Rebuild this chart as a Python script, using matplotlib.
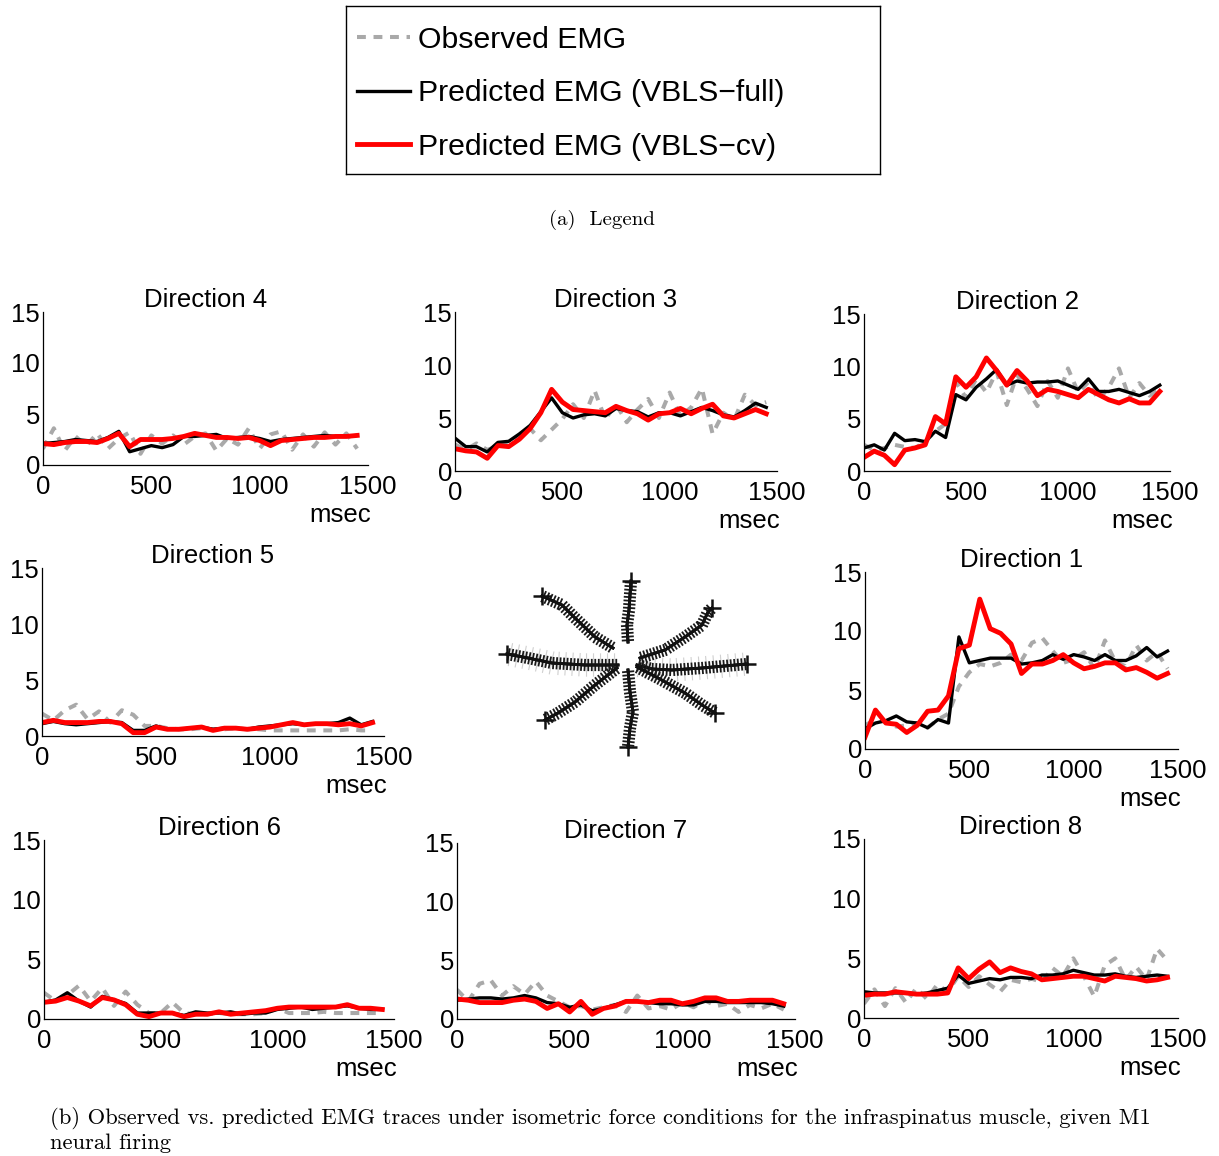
import matplotlib
matplotlib.use("Agg")
import matplotlib.pyplot as plt
import matplotlib.patheffects as pe
import numpy as np

W, H = 1219, 1156
plt.rcParams['font.family'] = ['Liberation Sans', 'DejaVu Sans']

# time base of the EMG traces (msec)
t_ms = np.arange(0, 1451, 50)

# observed EMG, VBLS-full prediction, VBLS-cv prediction for each reach direction
obs_d1 = [2.0, 2.5, 2.3, 1.9, 2.0, 2.2, 1.8, 2.5, 3.0, 5.3, 6.5, 7.2, 7.0, 7.3, 8.0,
          7.5, 9.0, 9.4, 8.3, 7.3, 7.6, 8.2, 6.8, 9.2, 7.4, 7.0, 8.8, 7.5, 8.2, 6.8]
full_d1 = [1.7, 2.2, 2.4, 2.8, 2.3, 2.2, 1.8, 2.5, 2.2, 9.5, 7.3, 7.5, 7.7, 7.7, 7.7,
           7.2, 7.3, 7.5, 8.0, 7.6, 8.0, 7.8, 7.5, 8.0, 7.5, 7.5, 7.9, 8.6, 7.8, 8.3]
cv_d1 = [1.0, 3.3, 2.2, 2.1, 1.4, 2.0, 3.2, 3.3, 4.5, 8.5, 8.8, 12.7, 10.2, 9.8, 8.9,
         6.4, 7.2, 7.2, 7.5, 8.0, 7.3, 6.8, 7.0, 7.3, 7.3, 6.7, 6.9, 6.5, 6.0, 6.4]

obs_d2 = [2.5, 2.0, 2.2, 2.5, 2.3, 2.2, 2.8, 3.8, 4.5, 8.5, 7.0, 8.8, 7.5, 9.5, 6.3,
          9.2, 7.8, 6.2, 8.6, 7.0, 9.8, 7.5, 8.5, 6.8, 8.0, 9.8, 7.0, 8.4, 7.2, 7.8]
full_d2 = [2.2, 2.5, 2.0, 3.6, 2.9, 3.0, 2.8, 3.8, 3.2, 7.3, 6.8, 8.0, 8.8, 9.7, 8.2,
           8.6, 8.4, 8.5, 8.5, 8.6, 8.2, 7.8, 8.8, 7.6, 7.6, 7.8, 7.5, 7.2, 7.6, 8.2]
cv_d2 = [1.3, 1.9, 1.5, 0.6, 2.0, 2.2, 2.5, 5.2, 4.5, 9.0, 8.0, 9.0, 10.8, 9.6, 8.2,
         9.6, 8.6, 7.2, 7.8, 7.6, 7.3, 7.0, 7.8, 7.3, 6.8, 6.5, 6.9, 6.5, 6.5, 7.6]

obs_d3 = [2.5, 2.0, 2.6, 2.0, 2.3, 2.7, 3.3, 4.0, 2.9, 3.9, 4.9, 6.3, 5.0, 7.6, 4.9,
          6.3, 4.6, 5.8, 6.8, 5.0, 7.4, 5.2, 6.0, 7.8, 3.5, 5.5, 4.8, 7.2, 6.2, 6.5]
full_d3 = [3.1, 2.3, 2.3, 1.8, 2.7, 2.8, 3.5, 4.3, 5.6, 6.9, 5.5, 5.0, 5.3, 5.4, 5.2,
           5.9, 5.7, 5.6, 5.1, 5.5, 5.5, 5.2, 5.6, 6.0, 5.7, 5.3, 5.1, 5.7, 6.4, 6.0]
cv_d3 = [2.1, 1.9, 1.8, 1.2, 2.4, 2.3, 3.0, 4.0, 5.5, 7.7, 6.5, 5.8, 5.7, 5.6, 5.5,
         6.1, 5.7, 5.4, 4.8, 5.4, 5.5, 5.9, 5.4, 5.9, 6.3, 5.2, 5.0, 5.4, 5.8, 5.4]

obs_d4 = [1.6, 3.6, 1.4, 2.8, 1.9, 3.1, 1.6, 2.6, 3.2, 1.1, 2.9, 2.1, 2.9, 2.0, 2.8,
          3.1, 1.4, 2.6, 2.0, 3.6, 1.6, 3.0, 3.3, 1.5, 3.0, 1.8, 3.2, 2.0, 3.1, 1.6]
full_d4 = [2.1, 2.2, 2.3, 2.5, 2.4, 2.3, 2.7, 3.3, 1.3, 1.6, 1.9, 1.7, 2.0, 2.8, 2.8,
           2.9, 3.0, 2.6, 2.7, 2.8, 2.6, 2.3, 2.5, 2.6, 2.7, 2.8, 2.9, 2.8, 2.8, 2.9]
cv_d4 = [2.1, 2.0, 2.2, 2.3, 2.3, 2.2, 2.6, 3.1, 1.8, 2.5, 2.5, 2.5, 2.6, 2.8, 3.1,
         2.9, 2.7, 2.7, 2.6, 2.7, 2.4, 1.9, 2.4, 2.5, 2.6, 2.7, 2.7, 2.8, 2.8, 2.9]

obs_d5 = [2.0, 1.4, 2.3, 2.8, 1.5, 2.2, 1.2, 2.3, 1.9, 0.9, 0.9, 0.7, 0.6, 0.6, 0.7,
          0.6, 0.6, 0.7, 0.6, 0.6, 0.5, 0.5, 0.5, 0.5, 0.5, 0.5, 0.5, 0.6, 0.5, 0.5]
full_d5 = [1.1, 1.3, 1.1, 1.0, 1.1, 1.2, 1.3, 1.2, 0.5, 0.5, 0.9, 0.6, 0.6, 0.7, 0.8,
           0.6, 0.7, 0.7, 0.6, 0.8, 0.9, 1.0, 1.1, 1.0, 1.1, 1.1, 1.2, 1.6, 1.0, 1.3]
cv_d5 = [1.2, 1.4, 1.2, 1.2, 1.2, 1.3, 1.3, 1.1, 0.3, 0.3, 0.8, 0.6, 0.6, 0.7, 0.8,
         0.5, 0.7, 0.7, 0.6, 0.7, 0.8, 1.0, 1.2, 1.0, 1.1, 1.1, 1.0, 1.1, 0.9, 1.2]

obs_d6 = [2.2, 1.5, 2.0, 2.8, 1.5, 2.6, 1.1, 2.3, 1.2, 0.5, 0.5, 1.4, 0.5, 0.4, 0.4,
          0.5, 0.4, 0.4, 0.4, 0.5, 0.9, 0.5, 0.5, 0.5, 0.6, 0.5, 0.5, 0.5, 0.5, 0.5]
full_d6 = [1.4, 1.6, 2.2, 1.5, 1.0, 1.9, 1.6, 1.3, 0.5, 0.5, 0.5, 0.5, 0.3, 0.6, 0.5,
           0.5, 0.6, 0.4, 0.5, 0.5, 0.8, 0.9, 1.0, 0.8, 0.9, 1.0, 1.1, 0.9, 0.8, 0.8]
cv_d6 = [1.4, 1.5, 1.8, 1.5, 1.1, 1.8, 1.6, 1.2, 0.4, 0.2, 0.5, 0.5, 0.2, 0.4, 0.4,
         0.6, 0.4, 0.5, 0.6, 0.7, 0.9, 1.0, 1.0, 1.0, 1.0, 1.0, 1.2, 0.9, 0.9, 0.8]

obs_d7 = [2.5, 1.5, 3.0, 3.3, 2.0, 2.8, 2.1, 3.2, 2.0, 1.5, 1.0, 1.1, 0.8, 1.0, 1.2,
          0.6, 2.0, 0.9, 1.1, 0.8, 1.4, 1.0, 1.6, 1.1, 1.3, 0.6, 1.2, 0.9, 1.3, 0.8]
full_d7 = [1.6, 1.7, 1.8, 1.8, 1.7, 1.8, 2.0, 1.8, 1.4, 1.3, 1.0, 1.2, 0.7, 0.9, 1.2,
           1.5, 1.5, 1.4, 1.3, 1.3, 1.2, 1.2, 1.5, 1.5, 1.4, 1.4, 1.4, 1.4, 1.3, 1.1]
cv_d7 = [1.7, 1.6, 1.4, 1.4, 1.4, 1.6, 1.7, 1.5, 0.9, 1.3, 0.6, 1.5, 0.4, 0.9, 1.1,
         1.5, 1.5, 1.4, 1.6, 1.6, 1.3, 1.5, 1.8, 1.8, 1.5, 1.5, 1.6, 1.6, 1.6, 1.3]

obs_d8 = [1.2, 2.4, 1.0, 2.5, 1.3, 2.5, 1.6, 2.8, 2.2, 3.5, 2.6, 3.5, 2.8, 2.2, 3.2,
          3.0, 3.3, 3.0, 4.2, 3.5, 5.0, 3.5, 1.8, 4.4, 5.0, 3.2, 4.3, 3.2, 5.8, 4.8]
full_d8 = [2.2, 2.1, 2.1, 2.1, 2.1, 2.0, 2.1, 2.3, 2.5, 3.6, 2.9, 3.1, 3.3, 3.2, 3.4,
           3.4, 3.3, 3.6, 3.6, 3.7, 4.0, 3.8, 3.6, 3.6, 3.7, 3.5, 3.4, 3.5, 3.6, 3.5]
cv_d8 = [1.9, 2.0, 2.0, 2.2, 2.1, 2.0, 2.0, 2.0, 2.1, 4.2, 3.3, 4.1, 4.7, 3.8, 4.2,
         3.9, 3.7, 3.2, 3.3, 3.4, 3.5, 3.5, 3.3, 3.1, 3.5, 3.4, 3.3, 3.1, 3.2, 3.4]

traces = {
    1: (obs_d1, full_d1, cv_d1),
    2: (obs_d2, full_d2, cv_d2),
    3: (obs_d3, full_d3, cv_d3),
    4: (obs_d4, full_d4, cv_d4),
    5: (obs_d5, full_d5, cv_d5),
    6: (obs_d6, full_d6, cv_d6),
    7: (obs_d7, full_d7, cv_d7),
    8: (obs_d8, full_d8, cv_d8),
}

# hand paths of the 8 center-out reaches (relative to the start point)
reach_paths = {
    1: [(10, 0), (25, -4), (45, -5), (75, -3), (120, 1)],
    2: [(13, 7), (38, 15), (58, 28), (75, 40), (81, 53), (85, 57)],
    3: [(1, 23), (0, 40), (2, 55), (3, 70), (4, 84)],
    4: [(-14, 17), (-32, 28), (-52, 47), (-65, 60), (-85, 69)],
    5: [(-9, 0), (-42, 0), (-75, 2), (-99, 7), (-120, 11)],
    6: [(-10, -3), (-32, -20), (-52, -37), (-69, -48), (-82, -55)],
    7: [(1, -5), (3, -27), (6, -47), (3, -63), (1, -82)],
    8: [(10, -2), (31, -13), (58, -28), (75, -40), (88, -48)],
}

legend_labels = ['Observed EMG', 'Predicted EMG (VBLS\u2212full)', 'Predicted EMG (VBLS\u2212cv)']

# axes boxes in pixels: left, top, right, bottom
panel_box = {
    4: (43, 312, 368, 465),
    3: (455, 312, 777, 471),
    2: (864, 314, 1170, 471),
    5: (42, 568, 384, 736),
    1: (865, 572, 1178, 749),
    6: (44, 840, 394, 1019),
    7: (457, 843, 795, 1019),
    8: (864, 839, 1178, 1018),
}

obs_style = dict(color='#a9a9a9', lw=2.9, dashes=(2.2, 1.9))
full_style = dict(color='black', lw=2.4)
cv_style = dict(color='red', lw=3.5)

fig = plt.figure(figsize=(W / 100, H / 100), dpi=100)


def px_axes(l, t, r, b):
    return fig.add_axes([l / W, 1 - b / H, (r - l) / W, (b - t) / H])


handles = None
for d, box in panel_box.items():
    ax = px_axes(*box)
    obs, full, cv = traces[d]
    h1, = ax.plot(t_ms, obs, **obs_style)
    h2, = ax.plot(t_ms, full, **full_style)
    h3, = ax.plot(t_ms, cv, **cv_style)
    if handles is None:
        handles = [h1, h2, h3]
    ax.set_xlim(0, 1500)
    ax.set_ylim(0, 15)
    ax.set_xticks([0, 500, 1000, 1500])
    ax.set_yticks([0, 5, 10, 15])
    for s in ['top', 'right']:
        ax.spines[s].set_visible(False)
    for s in ['left', 'bottom']:
        ax.spines[s].set_linewidth(0.9)
    ax.tick_params(length=0, labelsize=18.5)
    ax.tick_params(axis='x', pad=7)
    ax.tick_params(axis='y', pad=2)
    ax.set_title('Direction %d' % d, fontsize=18.5, pad=2)
    ax.annotate('msec', xy=(1, 0), xycoords='axes fraction', xytext=(3, -50),
                textcoords='offset pixels', ha='right', va='center', fontsize=18.5)

# center-out reach trajectories
sax = px_axes(495, 570, 760, 760)
sax.set_xlim(-132, 133)
sax.set_ylim(-95, 95)
sax.axis('off')
ticks = [pe.withTickedStroke(angle=90, spacing=2.5, length=1.5, linewidth=1.3, foreground='#1a1a1a'),
         pe.withTickedStroke(angle=-90, spacing=2.5, length=1.5, linewidth=1.3, foreground='#1a1a1a'),
         pe.Normal()]
for d, path in reach_paths.items():
    xs = [p[0] for p in path]
    ys = [p[1] for p in path]
    if d in (1, 5):
        sax.plot(xs, ys, color='#cccccc', lw=0.5,
                 path_effects=[pe.withTickedStroke(angle=90, spacing=5, length=1.6, linewidth=0.8,
                                                   foreground='#d0d0d0'),
                               pe.withTickedStroke(angle=-90, spacing=5, length=1.6, linewidth=0.8,
                                                   foreground='#d0d0d0')])
    sax.plot(xs, ys, color='#111111', lw=2.0, path_effects=ticks)
    sax.plot(xs[-1], ys[-1], marker='+', color='#111111', ms=13, mew=1.8)

# legend box
lax = px_axes(346, 6, 880, 174)
lax.set_xticks([])
lax.set_yticks([])
for s in lax.spines.values():
    s.set_linewidth(1.0)
lax.legend(handles, legend_labels, loc='upper left', bbox_to_anchor=(11 / 534, 1 - 20 / 168),
           frameon=False, fontsize=21.8, handlelength=1.75, handletextpad=0.27,
           labelspacing=0.84, borderpad=0, borderaxespad=0)

fig.text(602 / W, 1 - 220 / H, '(a)  Legend', family='cmr10', fontsize=15,
         ha='center', va='center')
fig.text(50 / W, 1 - 1118 / H,
         '(b) Observed vs. predicted EMG traces under isometric force conditions '
         'for the infraspinatus muscle, given M1',
         family='cmr10', fontsize=16.3, ha='left', va='center')
fig.text(50 / W, 1 - 1143 / H, 'neural firing', family='cmr10', fontsize=16.3,
         ha='left', va='center')

fig.savefig('out.png', dpi=100)
